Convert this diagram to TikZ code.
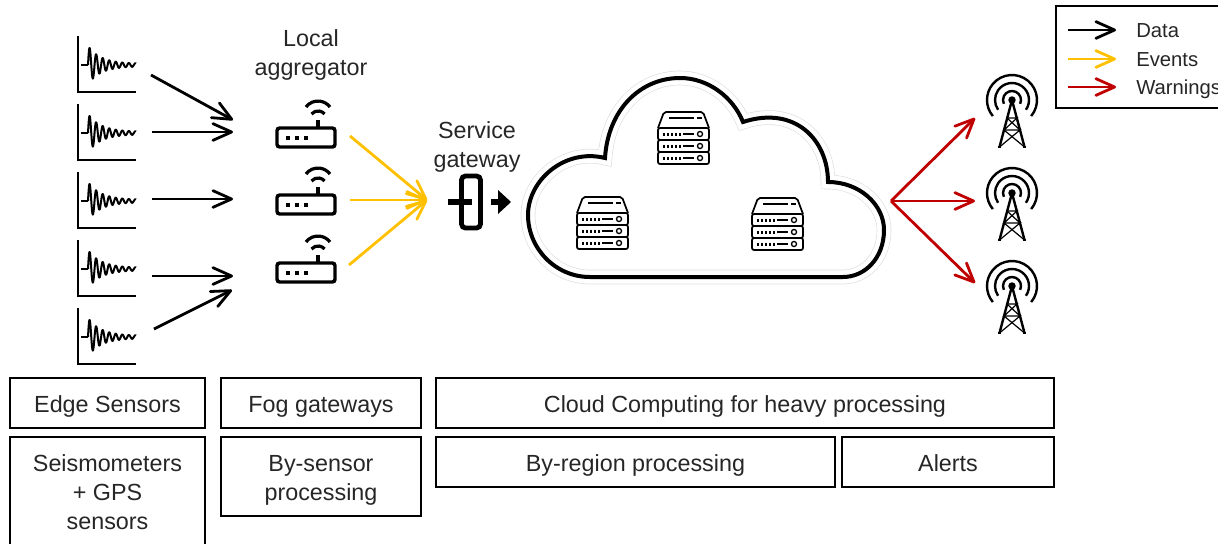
\documentclass[tikz,border=0pt]{standalone}
\usepackage{fontspec}
\setmainfont{Liberation Sans}
\usetikzlibrary{arrows.meta}
\definecolor{eventcol}{HTML}{FFC000}
\definecolor{warncol}{HTML}{C00000}
\tikzset{
  flow/.style={line width=2.1pt,-{Straight Barb[length=14pt,width=12.5pt,line width=2.1pt,round]}},
  infobox/.style={draw,line width=1.5pt},
  lbl/.style={font=\fontsize{17.5}{21.75}\selectfont,text=black!85,align=center},
  boxlbl/.style={lbl,text height=13pt,text depth=3.5pt,yshift=-2.35pt},
  sensor/.pic={
    \draw[line width=1.8pt] (0,0) -- (0,56) -- (58,56);
    \draw[line width=1pt] (3,29) -- (10,29);
    \draw[line width=1.5pt,line join=round] plot[domain=0:48,samples=200]
      ({\x+10},{29-(18*exp(-\x/13)+1.2)*sin(\x*55)});
  },
  router/.pic={
    \draw[line width=2.6pt,rounded corners=2pt] (0,0) rectangle (58,19);
    \draw[line width=2.4pt] (41,0) -- (41,-8);
    \draw[line width=2.4pt] (29,-21) arc[start angle=143,end angle=37,radius=11.25pt];
    \draw[line width=2.4pt] (34.5,-14) arc[start angle=140,end angle=40,radius=6.4pt];
    \foreach \px in {11,20,29} \fill (\px-2,8) rectangle (\px+2,12);
  },
  server/.pic={
    \draw[line width=1.3pt,rounded corners=1.5pt] (0,16) -- (6,0) -- (45,0) -- (51,16);
    \foreach \py in {16,28,40} {
      \draw[line width=1.3pt,rounded corners=1.5pt] (0,\py) rectangle (51,\py+12);
      \foreach \px in {6,10,14,18,22} \draw[line width=.9pt] (\px,\py+4.5) -- (\px,\py+7.5);
      \draw[line width=.9pt] (25,\py+6) -- (36,\py+6);
      \draw[line width=1pt] (42,\py+6) circle[radius=1.9pt];
    }
    \draw[line width=.9pt] (11,6) -- (36,6) (39,6) -- (44,6);
  },
  tower/.pic={
    \foreach \rad/\ang in {18.75pt/40,12.75pt/35,6.75pt/25}
      \draw[line width=1.8pt] (0,0) ++(-\ang:\rad) arc[start angle=-\ang,end angle=180+\ang,radius=\rad];
    \fill (0,0) circle[radius=2.8pt];
    \draw[line width=1.8pt,line join=round] (-12.5,47) -- (0,0) -- (12.5,47);
    \draw[line width=.9pt] (-5,18) -- (5,18) -- (-8,30) -- (8,30) -- (-12.5,47);
    \draw[line width=.9pt] (-5,18) -- (8,30) (-8,30) -- (12.5,47);
    \draw[line width=1.2pt] (-14,47) -- (-11,47) (11,47) -- (14,47);
  },
}
\begin{document}
\begin{tikzpicture}[x=.75pt,y=-.75pt]
\useasboundingbox (0,0) rectangle (1218,543);
\clip (0,0) rectangle (1218,543);
% sensors
\foreach \name/\py in {s1/36,s2/104,s3/172,s4/240,s5/308}
  \pic (\name) at (78,\py) {sensor};
% routers
\foreach \name/\py in {r1/128,r2/195,r3/263}
  \pic (\name) at (277,\py) {router};
% cloud
\def\cloudpath{(605,158) .. controls (608,110) and (640,78) .. (680,78)
  .. controls (708,78) and (733,97) .. (743,122)
  .. controls (795,105) and (828,140) .. (828,182)
  .. controls (860,182) and (884,205) .. (884,230)
  .. controls (884,258) and (865,277) .. (843,277) -- (590,277)
  .. controls (555,277) and (528,248) .. (528,215)
  .. controls (528,180) and (565,148) .. (605,158) -- cycle}
\draw[line width=11pt,black!13,miter limit=2] \cloudpath;
\draw[line width=10pt,white,miter limit=2] \cloudpath;
\draw[line width=3pt,miter limit=2] \cloudpath;
\foreach \name/\px/\py in {v1/658/112,v2/577/197,v3/752/198}
  \pic (\name) at (\px,\py) {server};
% gateway
\draw[line width=3.6pt,rounded corners=3pt] (461.5,176) rectangle (480.5,228);
\draw[line width=3.8pt] (448,202) -- (472,202);
\draw[line width=3.8pt] (491,202) -- (499,202);
\fill (498,190) -- (511,202) -- (498,214) -- cycle;
% towers
\foreach \name/\py in {t1/100,t2/193,t3/286}
  \pic (\name) at (1012,\py) {tower};
% labels
\node[lbl] (aggr) at (311,55) {Local\\aggregator};
\node[lbl] (gway) at (477,147) {Service\\gateway};
% arrow ends
\coordinate (d1a) at (151,75);  \coordinate (d1b) at (233,120);
\coordinate (d2a) at (152,132); \coordinate (d2b) at (233,132);
\coordinate (d3a) at (152,199); \coordinate (d3b) at (233,199);
\coordinate (d4a) at (152,276); \coordinate (d4b) at (233,276);
\coordinate (d5a) at (154,329); \coordinate (d5b) at (232,290);
\coordinate (e1a) at (350,136); \coordinate (e2a) at (350,200); \coordinate (e3a) at (349,265);
\coordinate (ehub) at (427,200);
\coordinate (whub) at (891,201);
\coordinate (w1) at (975,118); \coordinate (w2) at (975,201); \coordinate (w3) at (975,283);
\foreach \i in {1,...,5} \draw[flow] (d\i a) -- (d\i b);
\foreach \i in {1,2,3} \draw[flow,eventcol] (e\i a) -- (ehub);
\foreach \i in {1,2,3} \draw[flow,warncol] (whub) -- (w\i);
% layer boxes
\draw[infobox] (10,378) rectangle node[boxlbl] (edge) {Edge Sensors} (205,428);
\draw[infobox] (221,378) rectangle node[boxlbl] (fog) {Fog gateways} (421,428);
\draw[infobox] (436,378) rectangle node[boxlbl] (heavy) {Cloud Computing for heavy processing} (1054,428);
\draw[infobox] (10,437) rectangle node[lbl] (seis) {Seismometers\\+ GPS\\sensors} (205,547);
\draw[infobox] (221,437) rectangle node[lbl,yshift=-3pt] (bysensor) {By-sensor\\processing} (421,516);
\draw[infobox] (436,437) rectangle node[boxlbl] (byregion) {By-region processing} (835,487);
\draw[infobox] (842,437) rectangle node[boxlbl] (alerts) {Alerts} (1054,487);
% legend
\draw[line width=.8pt] (1056,6) rectangle (1240,108);
\foreach \name/\col/\py/\base/\txt in {data/black/30/37.5/Data,events/eventcol/59/66.5/Events,warn/warncol/87/94.5/Warnings} {
  \coordinate (\name a) at (1068,\py);
  \node[lbl,font=\fontsize{15.2}{18}\selectfont,anchor=base west,inner sep=0pt] (\name) at (1136,\base) {\txt};
  \draw[flow,\col] (\name a) -- +(48,0);
}
\end{tikzpicture}
\end{document}
